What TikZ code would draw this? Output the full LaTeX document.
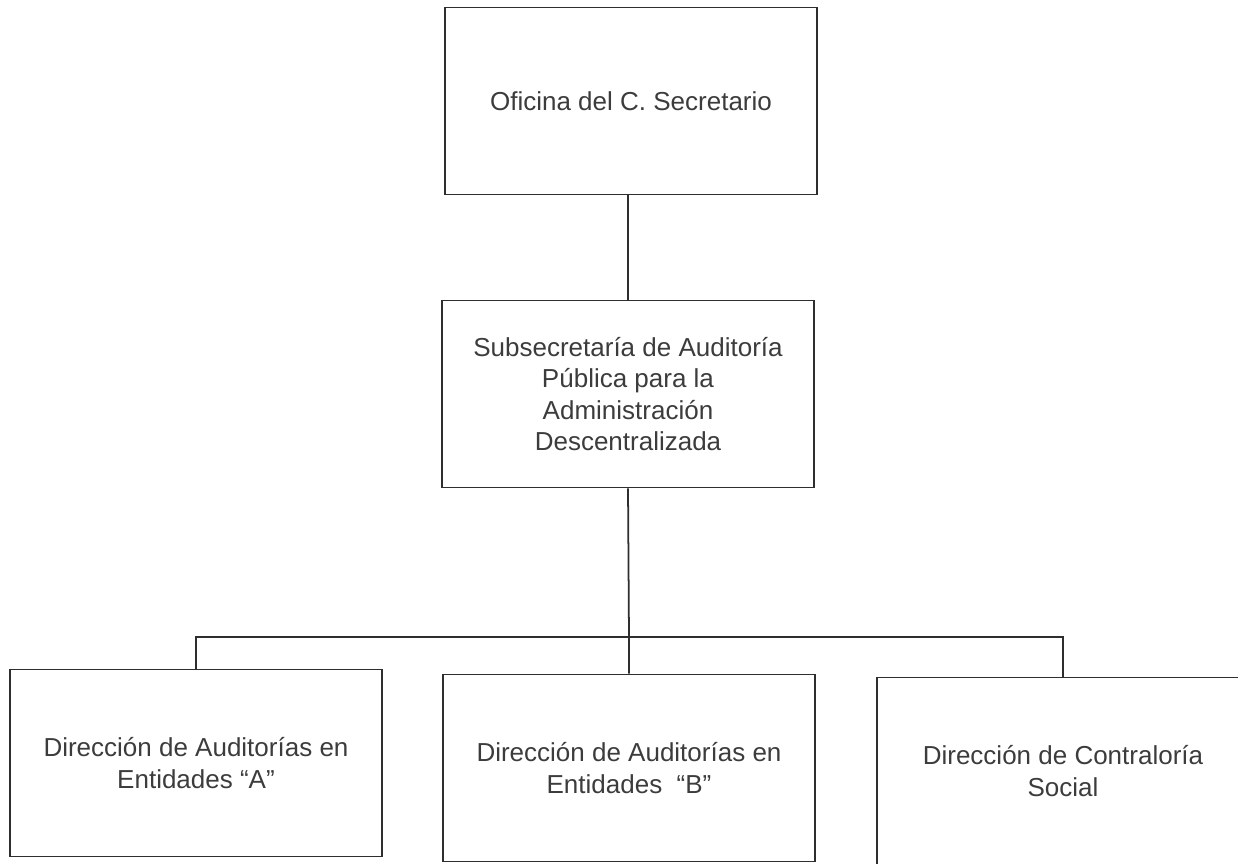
\documentclass[tikz,border=0pt]{standalone}
\usepackage{fontspec}
\setmainfont{Liberation Sans}
\definecolor{tinta}{HTML}{3C3C3C}
\definecolor{linea}{HTML}{2E2E2E}
\tikzset{unidad/.style = {draw = linea, line width = 1pt, text = tinta, align = center,
                          minimum width = 7.44cm, minimum height = 3.74cm, inner sep = 0,
                          font = \fontsize{14.8}{17.8}\selectfont}}
\tikzset{enlace/.style = {draw = linea, line width = 1pt}}

\begin{document}
\begin{tikzpicture}[x = 0.02cm, y = -0.02cm]
    \useasboundingbox (0, 0) rectangle (1238, 864);
    \clip (0, 0) rectangle (1238, 864);
    \node [unidad] (secretario) at (631, 101) {Oficina del C. Secretario};
    \node [unidad] (subsecretaria) at (628, 394) {Subsecretaría de Auditoría\\ Pública para la\\ Administración\\ Descentralizada};
    \node [unidad] (dirA) at (196, 763) {Dirección de Auditorías en\\ Entidades “A”};
    \node [unidad] (dirB) at (629, 768) {Dirección de Auditorías en\\ Entidades \ “B”};
    \node [unidad] (social) at (1063, 771) {Dirección de Contraloría\\ Social};
    \coordinate (bus) at (629, 637);
    \draw [enlace] (secretario.south -| subsecretaria.north) -- (subsecretaria.north);
    \draw [enlace] (subsecretaria.south) -- (bus) -- (dirB.north);
    \draw [enlace] (dirA.north) |- (bus) -| (social.north);
\end{tikzpicture}
\end{document}
